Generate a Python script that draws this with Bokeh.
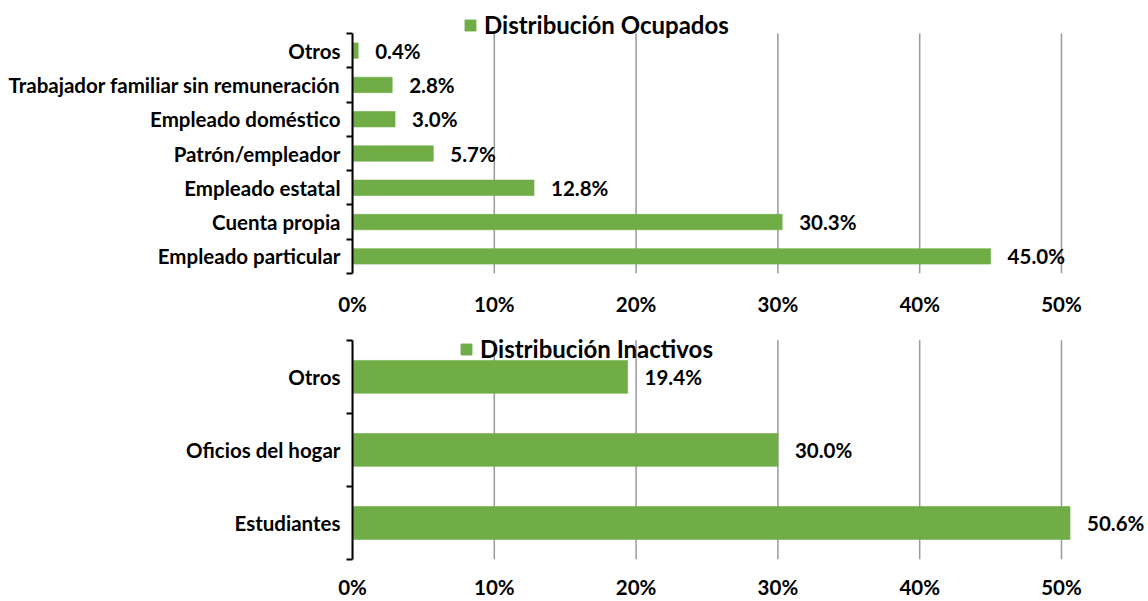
from bokeh.plotting import figure
from bokeh.models import FixedTicker, Legend, LegendItem
from bokeh.layouts import column
from bokeh.core.properties import value
from bokeh.embed import file_html
from bokeh.resources import INLINE

# ---- data ----
ocupados_categories = ["Empleado particular", "Cuenta propia", "Empleado estatal",
                       "Patrón/empleador", "Empleado doméstico",
                       "Trabajador familiar sin remuneración", "Otros"]
ocupados_values = [45.0, 30.3, 12.8, 5.7, 3.0, 2.8, 0.4]
inactivos_categories = ["Estudiantes", "Oficios del hogar", "Otros"]
inactivos_values = [50.6, 30.0, 19.4]
x_ticks = [0, 10, 20, 30, 40, 50]
x_tick_labels = ["0%", "10%", "20%", "30%", "40%", "50%"]
legend_ocupados = "Distribución Ocupados"
legend_inactivos = "Distribución Inactivos"

# ---- style ----
FONT = "Lato"
FSIZE = "20.5px"
LFSIZE = "24px"
GREEN = "#70AD47"
GRID = "#9a9a9a"
PX_PER_PCT = 14.18
LEFT = 352
FRAME_W = 794
FIG_W = 1148


def make_chart(cats, vals, legend_text, height, border_top, frame_h, cat_h,
               legend_loc, xlabel_standoff):
    n = len(cats)
    ys = list(range(n))
    y_end = -0.5 + n * frame_h / cat_h
    x_end = FRAME_W / PX_PER_PCT
    border_bottom = height - border_top - frame_h
    p = figure(width=FIG_W, height=height, x_range=(0, x_end), y_range=(-0.5, y_end),
               output_backend="svg", toolbar_location=None,
               min_border_left=LEFT, min_border_right=FIG_W - LEFT - FRAME_W,
               min_border_top=border_top, min_border_bottom=border_bottom)
    p.outline_line_color = None
    p.xgrid.visible = False
    p.ygrid.visible = False

    # gridlines limited to the category area
    p.segment(x0=x_ticks, x1=x_ticks, y0=[-0.5] * len(x_ticks), y1=[n - 0.5] * len(x_ticks),
              line_color=GRID, line_width=1.5)

    r = p.hbar(y=ys, left=0, right=vals, height=0.45, fill_color=GREEN, line_color=GREEN,
               line_alpha=0.6)
    p.text(x=vals, y=ys, text=[f"{v:.1f}%" for v in vals], x_offset=17,
           text_align="left", text_baseline="middle", text_font=value(FONT),
           text_font_style="bold", text_font_size=FSIZE, text_color="black")

    # x axis
    xa = p.xaxis[0]
    xa.ticker = FixedTicker(ticks=x_ticks)
    xa.major_label_overrides = {t: l for t, l in zip(x_ticks, x_tick_labels)}
    xa.axis_line_color = None
    xa.major_tick_line_color = None
    xa.minor_tick_line_color = None
    xa.major_tick_out = 0
    xa.major_tick_in = 0
    xa.major_label_standoff = xlabel_standoff
    xa.major_label_text_font = FONT
    xa.major_label_text_font_style = "bold"
    xa.major_label_text_font_size = FSIZE
    xa.major_label_text_color = "black"

    # y axis: labels at centres, ticks at boundaries
    ya = p.yaxis[0]
    ya.ticker = FixedTicker(ticks=ys, minor_ticks=[i - 0.5 for i in range(n + 1)])
    ya.major_label_overrides = {i: c for i, c in enumerate(cats)}
    ya.bounds = (-0.5, n - 0.5)
    ya.axis_line_color = "black"
    ya.axis_line_width = 2
    ya.major_tick_line_color = None
    ya.major_tick_out = 0
    ya.major_tick_in = 0
    ya.minor_tick_line_color = "black"
    ya.minor_tick_line_width = 2
    ya.minor_tick_out = 6
    ya.minor_tick_in = 0
    ya.major_label_standoff = 6
    ya.major_label_text_font = FONT
    ya.major_label_text_font_style = "bold"
    ya.major_label_text_font_size = FSIZE
    ya.major_label_text_color = "black"

    legend = Legend(items=[LegendItem(label=legend_text, renderers=[r])],
                    location=legend_loc, orientation="horizontal",
                    padding=0, margin=0, spacing=0, glyph_width=14, glyph_height=14,
                    label_standoff=7, label_text_font=FONT, label_text_font_style="bold",
                    label_text_font_size=LFSIZE, label_text_color="black",
                    background_fill_alpha=0, border_line_alpha=0)
    p.add_layout(legend)
    return p


p1 = make_chart(ocupados_categories, ocupados_values, legend_ocupados,
                height=322, border_top=8, frame_h=265, cat_h=240,
                legend_loc=(111, 234), xlabel_standoff=18)
p2 = make_chart(inactivos_categories, inactivos_values, legend_inactivos,
                height=279, border_top=0, frame_h=239, cat_h=221,
                legend_loc=(107, 196), xlabel_standoff=15)

layout = column(p1, p2, spacing=0)
open("out.html", "w").write(file_html(layout, INLINE))
